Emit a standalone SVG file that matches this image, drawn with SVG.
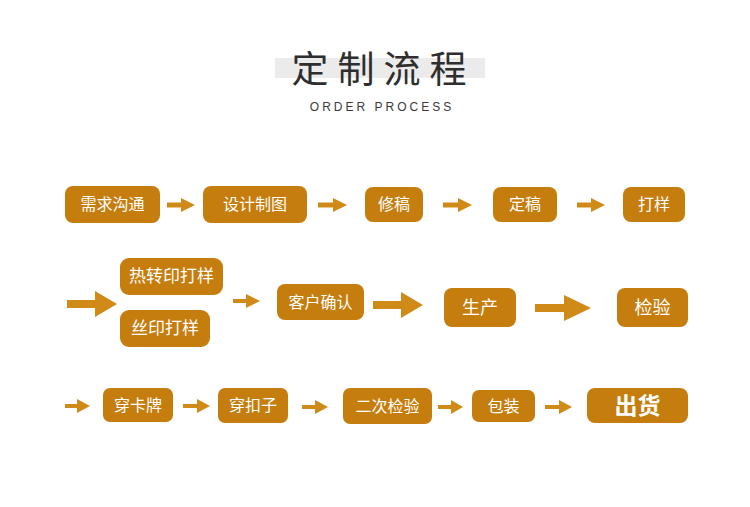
<svg xmlns="http://www.w3.org/2000/svg" width="750" height="507" viewBox="0 0 750 507">
<style>
.box{fill:#C57D0E;}
.lbl{fill:#FFFFFF;font-family:"Noto Sans CJK SC","Noto Sans",sans-serif;font-size:16px;text-anchor:middle;}
.arr{fill:#D08A17;}
.title{fill:#2E2E2E;font-family:"Noto Sans CJK SC","Noto Sans",sans-serif;font-size:37px;font-weight:400;text-anchor:middle;letter-spacing:9px;}
.sub{fill:#3A3A3A;font-family:"Liberation Sans","DejaVu Sans",sans-serif;font-size:12px;text-anchor:middle;letter-spacing:3px;}
</style>
<rect width="750" height="507" fill="#FFFFFF"/>
<g id="title">
<rect x="275" y="58" width="210" height="20" fill="#EBEBEB"/>
<text class="title" x="383.5" y="83">定制流程</text>
<text class="sub" x="382" y="111">ORDER PROCESS</text>
</g>
<g id="n1"><rect class="box" x="65" y="186" width="95" height="37" rx="8"/><text class="lbl" x="112.5" y="210">需求沟通</text></g>
<g id="n2"><rect class="box" x="203" y="186" width="104" height="37" rx="8"/><text class="lbl" x="255" y="210">设计制图</text></g>
<g id="n3"><rect class="box" x="365" y="187" width="58" height="35" rx="8"/><text class="lbl" x="394" y="210">修稿</text></g>
<g id="n4"><rect class="box" x="493" y="187" width="64" height="35" rx="8"/><text class="lbl" x="525" y="210">定稿</text></g>
<g id="n5"><rect class="box" x="623" y="187" width="62" height="35" rx="8"/><text class="lbl" x="654" y="210">打样</text></g>
<g id="n6"><rect class="box" x="120" y="258" width="103" height="37" rx="9"/><text class="lbl" x="171.5" y="282" style="font-size:17px">热转印打样</text></g>
<g id="n7"><rect class="box" x="120" y="310" width="90" height="37" rx="9"/><text class="lbl" x="165" y="334" style="font-size:17px">丝印打样</text></g>
<g id="n8"><rect class="box" x="277" y="284" width="87" height="36" rx="8"/><text class="lbl" x="320.5" y="308">客户确认</text></g>
<g id="n9"><rect class="box" x="444" y="288" width="72" height="39" rx="8"/><text class="lbl" x="480" y="314" style="font-size:18px">生产</text></g>
<g id="n10"><rect class="box" x="617" y="288" width="71" height="39" rx="8"/><text class="lbl" x="652.5" y="314" style="font-size:18px">检验</text></g>
<g id="n11"><rect class="box" x="103" y="388" width="70" height="34" rx="7"/><text class="lbl" x="138" y="411">穿卡牌</text></g>
<g id="n12"><rect class="box" x="218" y="388" width="70" height="35" rx="7"/><text class="lbl" x="253" y="411">穿扣子</text></g>
<g id="n13"><rect class="box" x="343" y="388" width="89" height="36" rx="7"/><text class="lbl" x="387.5" y="412">二次检验</text></g>
<g id="n14"><rect class="box" x="472" y="390" width="63" height="32" rx="7"/><text class="lbl" x="503.5" y="412">包装</text></g>
<g id="n15"><rect class="box" x="587" y="388" width="101" height="35" rx="8"/><text class="lbl" x="637.5" y="414" style="font-size:23px;font-weight:bold">出货</text></g>
<g id="connectors">
<polygon class="arr" points="167,202.5 181,202.5 181,198 195,205 181,212 181,207.5 167,207.5"/>
<polygon class="arr" points="318,202.5 333,202.5 333,198 347,205 333,212 333,207.5 318,207.5"/>
<polygon class="arr" points="443,202.5 458,202.5 458,198 472,205 458,212 458,207.5 443,207.5"/>
<polygon class="arr" points="577,202.5 591,202.5 591,198 605,205 591,212 591,207.5 577,207.5"/>
<polygon class="arr" points="67,300 95,300 95,291 117,304 95,317 95,308 67,308"/>
<polygon class="arr" points="233,299 246,299 246,294 260,301 246,308 246,303 233,303"/>
<polygon class="arr" points="373,301 401,301 401,292 423,305 401,318 401,309 373,309"/>
<polygon class="arr" points="535,304 564,304 564,295 591,308 564,321 564,312 535,312"/>
<polygon class="arr" points="65,404 77,404 77,399 90,406 77,413 77,408 65,408"/>
<polygon class="arr" points="183,404 197,404 197,399 210,406 197,413 197,408 183,408"/>
<polygon class="arr" points="302,405 315,405 315,400 328,407 315,414 315,409 302,409"/>
<polygon class="arr" points="438,405 451,405 451,400 463,407 451,414 451,409 438,409"/>
<polygon class="arr" points="545,405 559,405 559,400 572,407 559,414 559,409 545,409"/>
</g>
</svg>
